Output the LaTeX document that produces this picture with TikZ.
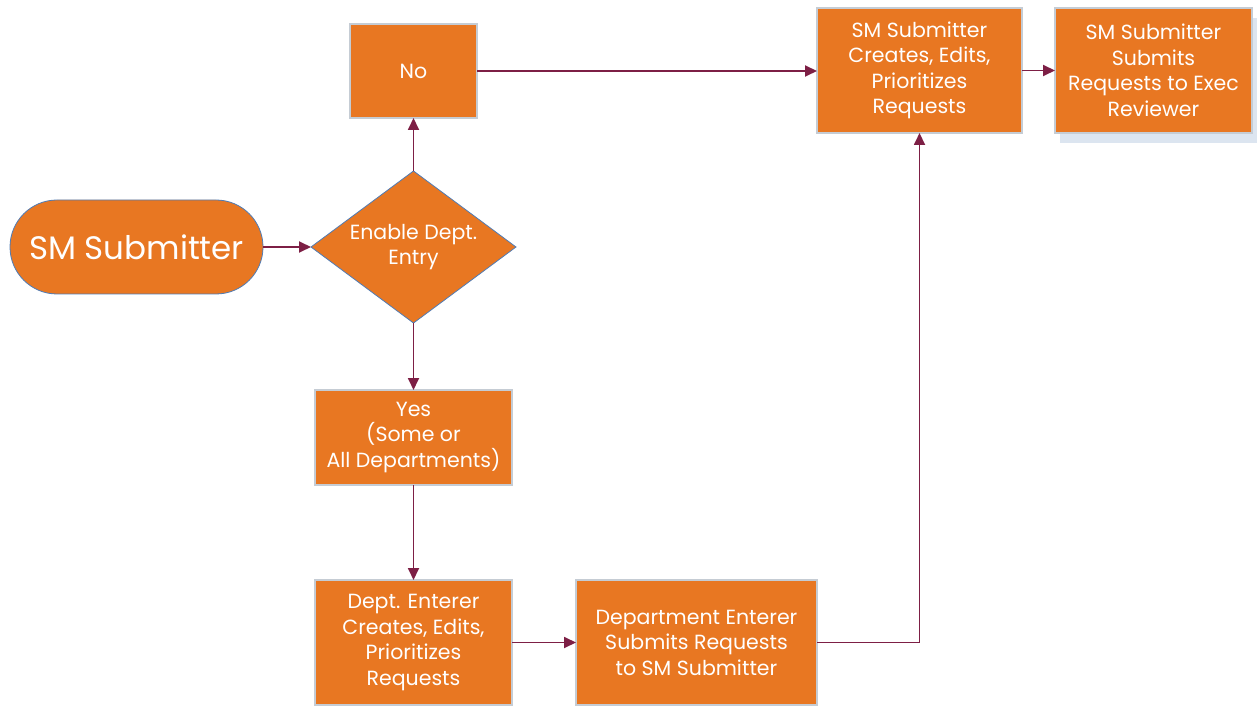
\documentclass[tikz,border=0pt]{standalone}
\usepackage{fontspec}
\setmainfont{Poppins}
\usepackage{tikz}
\usetikzlibrary{arrows.meta, positioning, shapes.geometric, shadows}

\definecolor{boxorange}{HTML}{E87722}
\definecolor{boxedge}{HTML}{C5CCD4}
\definecolor{shapeedge}{HTML}{4F7CB5}
\definecolor{flowline}{HTML}{7D1F45}

\tikzset{
    stepbox/.style={rectangle, fill=boxorange, draw=boxedge, line width=1.2pt,
        text=white, align=center, inner sep=0pt, outer sep=0pt,
        font=\fontsize{20.5}{25.5}\selectfont},
    choice/.style={diamond, fill=boxorange, draw=shapeedge, line width=0.8pt,
        text=white, align=center, inner sep=-25pt, outer sep=0pt,
        minimum width=205pt, minimum height=152pt,
        font=\fontsize{20.5}{25.5}\selectfont},
    terminal/.style={rectangle, rounded corners=47pt, fill=boxorange, draw=shapeedge,
        line width=0.8pt, text=white, inner sep=0pt, outer sep=0pt,
        minimum width=253pt, minimum height=94pt,
        font=\fontsize{32.5}{38}\selectfont},
    flow/.style={draw=flowline, line width=1.8pt, -{Triangle[length=12pt, width=11pt]}},
}

\begin{document}
\begin{tikzpicture}[node distance=48pt, >=Triangle]
        \useasboundingbox (0,0) rectangle (1257pt,-708pt);

        \node (start) [terminal] at (136.5pt,-247pt) {SM Submitter};
        \node (enable) [choice, right=48pt of start] {Enable Dept.\\Entry};
        \node (no) [stepbox, minimum width=127pt, minimum height=94pt,
            above=53pt of enable] {No};
        \node (yes) [stepbox, minimum width=197pt, minimum height=95pt,
            below=67pt of enable] {Yes\\(Some or\\All Departments)};
        \node (deptcreate) [stepbox, minimum width=197pt, minimum height=125pt,
            below=95pt of yes] {Dept. Enterer\\Creates, Edits,\\Prioritizes\\Requests};
        \node (deptsubmit) [stepbox, minimum width=241pt, minimum height=125pt,
            right=64pt of deptcreate] {Department Enterer\\Submits Requests\\to SM Submitter};
        \node (smcreate) [stepbox, minimum width=205pt, minimum height=125pt,
            anchor=west] at (817pt,-70.5pt) {SM Submitter\\Creates, Edits,\\Prioritizes\\Requests};
        \node (smsubmit) [stepbox, minimum width=197pt, minimum height=125pt,
            right=33pt of smcreate,
            drop shadow={fill=shapeedge!20, opacity=1, shadow xshift=5pt, shadow yshift=-10pt}]
            {SM Submitter\\Submits\\Requests to Exec\\Reviewer};

        \draw[flow] (start) -- (enable);
        \draw[flow] (enable) -- (no);
        \draw[flow] (no) -- (no -| smcreate.west);
        \draw[flow] (smcreate) -- (smsubmit);
        \draw[flow] (enable) -- (yes);
        \draw[flow] (yes) -- (deptcreate);
        \draw[flow] (deptcreate) -- (deptsubmit);
        \draw[flow] (deptsubmit) -| (smcreate);
    \end{tikzpicture}
\end{document}
